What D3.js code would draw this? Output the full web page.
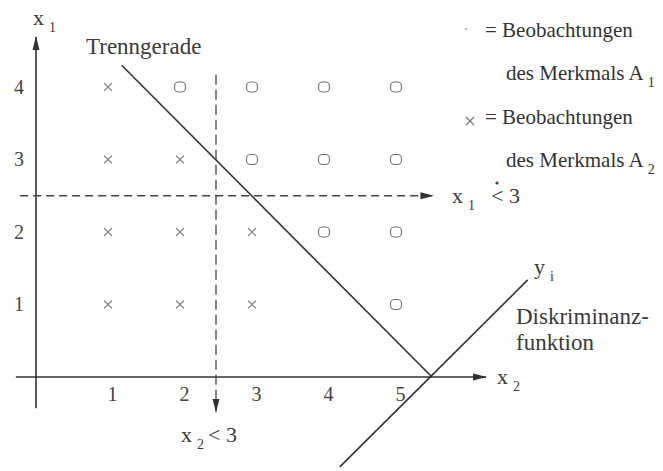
<!DOCTYPE html>
<html>
<head>
<meta charset="utf-8">
<script src="https://cdn.jsdelivr.net/npm/d3@7"></script>
<style>
  body { margin: 0; background: #fff; }
  svg { display: block; }
</style>
</head>
<body>
<svg id="chart" width="663" height="471"></svg>
<script>
// observations, [x2, x1]
const obsA1 = [[2,4],[3,4],[4,4],[5,4],[3,3],[4,3],[5,3],[4,2],[5,2],[5,1]];
const obsA2 = [[1,4],[1,3],[2,3],[1,2],[2,2],[3,2],[1,1],[2,1],[3,1]];
const x2Ticks = [1,2,3,4,5];
const x1Ticks = [1,2,3,4];
const trennLine = [[1.19, 4.3],[5.5, 0]];
const diskLine = [[4.22, -1.24],[6.83, 1.34]];
const limX1 = 2.5, limX2 = 2.5;
const legendRows = ["= Beobachtungen", "des Merkmals A", "= Beobachtungen", "des Merkmals A"];
const legendSubs = ["", "1", "", "2"];

var serif = "'Liberation Serif', 'DejaVu Serif', 'Times New Roman', serif";
var svg = d3.select("#chart");
var xScale = d3.scaleLinear().domain([0, 5]).range([36, 396]);
var yScale = d3.scaleLinear().domain([0, 4]).range([377, 87]);

var defs = svg.append("defs");
defs.append("marker").attr("id", "arr")
	.attr("viewBox", "0 -5 14 10").attr("refX", 13).attr("refY", 0)
	.attr("markerWidth", 14).attr("markerHeight", 10)
	.attr("markerUnits", "userSpaceOnUse").attr("orient", "auto")
	.append("path").attr("d", "M0,-3.5L14,0L0,3.5Z").style("fill", "#333");

var line = d3.line().x(d => xScale(d[0])).y(d => yScale(d[1]));

// axes
svg.append("path").attr("d", line([[-0.28, 0],[6.25, 0]]))
	.style("stroke", "#333").style("stroke-width", 1.6).attr("marker-end", "url(#arr)");
svg.append("path").attr("d", line([[0, -0.43],[0, 4.69]]))
	.style("stroke", "#333").style("stroke-width", 1.6).attr("marker-end", "url(#arr)");

var xAxis = d3.axisBottom(xScale).tickValues(x2Ticks).tickFormat(d3.format("d")).tickSize(0).tickPadding(10);
svg.append("g").attr("transform", "translate(0," + yScale(0) + ")").call(xAxis)
	.attr("font-family", serif).attr("font-size", 20)
	.call(g => g.select(".domain").remove())
	.selectAll("text").attr("dx", 4).attr("fill", "#444");
var yAxis = d3.axisLeft(yScale).tickValues(x1Ticks).tickFormat(d3.format("d")).tickSize(0).tickPadding(12);
svg.append("g").attr("transform", "translate(" + xScale(0) + ",0)").call(yAxis)
	.attr("font-family", serif).attr("font-size", 20)
	.call(g => g.select(".domain").remove())
	.selectAll("text").attr("fill", "#444");

// threshold dashed lines
svg.append("path").attr("d", line([[-0.22, limX1],[5.52, limX1]]))
	.style("stroke", "#444").style("stroke-width", 1.3).style("stroke-dasharray", "8,5")
	.style("fill", "none").attr("marker-end", "url(#arr)");
svg.append("path").attr("d", line([[limX2, 4.17],[limX2, -0.48]]))
	.style("stroke", "#444").style("stroke-width", 1.3).style("stroke-dasharray", "10,5")
	.style("fill", "none").attr("marker-end", "url(#arr)");

// Trenngerade and Diskriminanzfunktion
svg.append("path").attr("d", line(trennLine)).style("stroke", "#333").style("stroke-width", 1.6);
svg.append("path").attr("d", line(diskLine)).style("stroke", "#333").style("stroke-width", 1.6);

// observations
svg.selectAll(".a1").data(obsA1).enter().append("rect").attr("class", "a1")
	.attr("x", d => xScale(d[0]) - 5.5).attr("y", d => yScale(d[1]) - 5)
	.attr("width", 11).attr("height", 10).attr("rx", 4)
	.style("fill", "none").style("stroke", "#777").style("stroke-width", 1.2);
svg.selectAll(".a2").data(obsA2).enter().append("path").attr("class", "a2")
	.attr("d", d => { var x = xScale(d[0]), y = yScale(d[1]);
		return "M" + (x-4) + "," + (y-4) + "L" + (x+4) + "," + (y+4) + "M" + (x+4) + "," + (y-4) + "L" + (x-4) + "," + (y+4); })
	.style("stroke", "#888").style("stroke-width", 1.2);

// labels
function label(x, y, main, sub, rest, size, gap) {
	var t = svg.append("text").attr("x", x).attr("y", y)
		.attr("font-family", serif).attr("font-size", size || 22).attr("fill", "#3a3a3a");
	t.append("tspan").text(main);
	if (sub) t.append("tspan").attr("dx", 5).attr("dy", 7).attr("font-size", 14).text(sub);
	if (rest) t.append("tspan").attr("dx", gap || 4).attr("dy", sub ? -7 : 0).text(rest);
	return t;
}
label(33, 25, "x", "1");
label(86, 54, "Trenngerade", null, null, 23);
label(452, 203, "x", "1", "< 3", 22, 16);
svg.append("circle").attr("cx", 497).attr("cy", 183).attr("r", 1.6).style("fill", "#444");
label(181, 442, "x", "2", "< 3");
label(497, 384, "x", "2");
label(534, 274, "y", "i");
label(516, 324, "Diskriminanz-", null, null, 23);
label(516, 350, "funktion", null, null, 23);

// legend
var legY = d3.scaleLinear().domain([0, 3]).range([37, 167]);
legendRows.forEach(function(r, i) {
	var t = svg.append("text").attr("y", legY(i))
		.attr("font-family", serif).attr("font-size", 21).attr("fill", "#333")
		.attr("x", i % 2 === 0 ? 485 : 506);
	t.append("tspan").text(r);
	if (legendSubs[i]) t.append("tspan").attr("dx", 4).attr("dy", 7).attr("font-size", 14).text(legendSubs[i]);
});
svg.append("circle").attr("cx", 466).attr("cy", legY(0) - 8).attr("r", 1.2).style("fill", "#bbb");
svg.append("path").attr("d", "M466,117L474,125M474,117L466,125").style("stroke", "#777").style("stroke-width", 1.2);
</script>
</body>
</html>
